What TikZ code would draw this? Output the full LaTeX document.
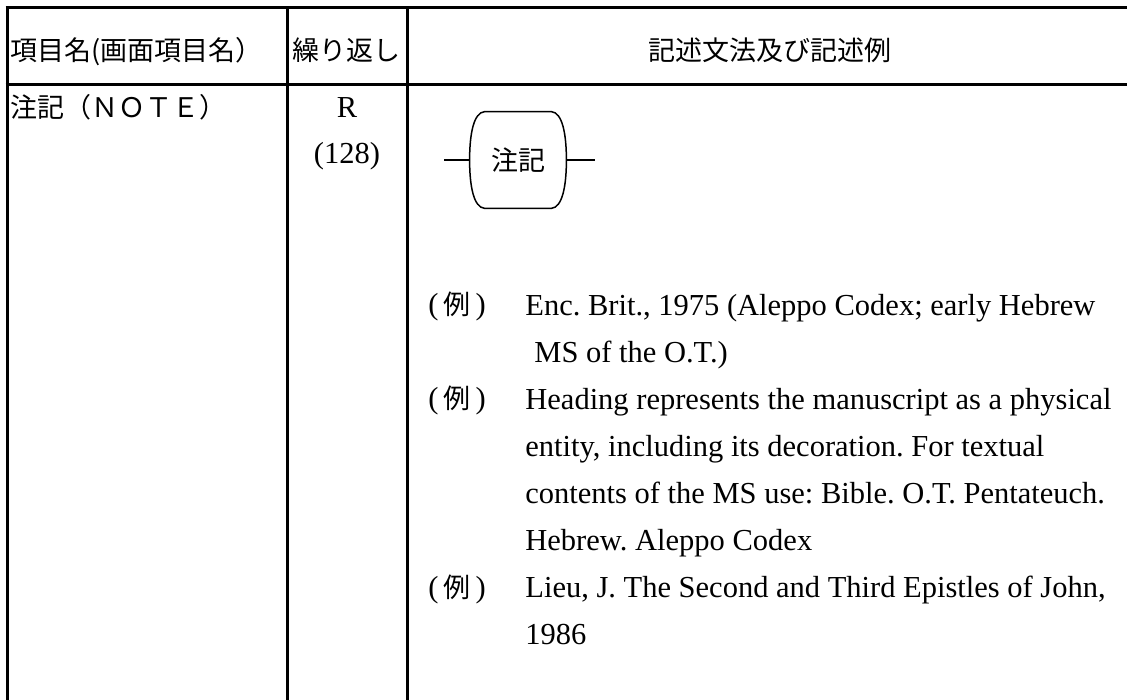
\documentclass[tikz,border=0pt]{standalone}
\usepackage{fontspec}
\setmainfont{Liberation Serif}
\newfontfamily\jp{Noto Sans CJK JP}
\usetikzlibrary{positioning,calc}

\begin{document}
\frenchspacing
\begin{tikzpicture}[x=1pt, y=-1pt, thick,
  rule/.style = {line width=3pt},
  jtext/.style = {font=\jp\fontsize{27}{47}\selectfont, inner sep=0pt},
  etext/.style = {font=\fontsize{30.5}{47}\selectfont, inner sep=0pt},
  term/.style = {minimum width=96pt, minimum height=96pt, inner sep=0pt, font=\jp\fontsize{27}{30}\selectfont}]
\useasboundingbox[fill=white] (0,0) rectangle (1127,700);
% table
\draw[rule] (5.5,8) -- (1127,8);
\draw[rule] (5.5,85) -- (1127,85);
\draw[rule] (7,8) -- (7,700);
\draw[rule] (287,8) -- (287,700);
\draw[rule] (407,8) -- (407,700);
% header
\node[jtext, anchor=base west] (colname) at (10,61) {項目名(画面項目名）};
\node[jtext, anchor=base] (colrep) at (346,61) {繰り返し};
\node[jtext, anchor=base] (colsyn) at (770,61) {記述文法及び記述例};
% row
\node[jtext, anchor=base west] (name) at (10,118) {注記（ＮＯＴＥ）};
\node[etext, anchor=base] (rep) at (347,118) {R};
\node[etext, anchor=base] (max) at (347,164) {(128)};
% syntax
\node[term] (note) at (518,160) {注記};
\draw[line width=1.5pt] ($(note.north west)+(15,0)$) -- ($(note.north east)+(-15,0)$)
  .. controls ($(note.north east)+(-4,1)$) and ($(note.east)+(0,-26)$) .. (note.east)
  .. controls ($(note.east)+(0,26)$) and ($(note.south east)+(-4,-1)$) .. ($(note.south east)+(-15,0)$)
  -- ($(note.south west)+(15,0)$)
  .. controls ($(note.south west)+(4,-1)$) and ($(note.west)+(0,26)$) .. (note.west)
  .. controls ($(note.west)+(0,-26)$) and ($(note.north west)+(4,1)$) .. cycle;
\coordinate (in) at (444,160);
\coordinate (out) at (595,160);
\draw[line width=1.5pt] (in) -- (note.west);
\draw[line width=1.5pt] (note.east) -- (out);
% examples
\node[etext, anchor=base west] (ex1) at (428,315) {(\,{\jp\fontsize{27}{47}\selectfont 例}\,)};
\node[etext, anchor=base west] (ex2) at (428,409) {(\,{\jp\fontsize{27}{47}\selectfont 例}\,)};
\node[etext, anchor=base west] (ex3) at (428,597) {(\,{\jp\fontsize{27}{47}\selectfont 例}\,)};
\node[etext, anchor=north west, align=left] (txt1) at (525,289)
  {\rule{0pt}{26pt}Enc. Brit., 1975 (Aleppo Codex; early Hebrew\\
   \hspace{9pt}MS of the O.T.)};
\node[etext, anchor=north west, align=left] (txt2) at (525,383)
  {\rule{0pt}{26pt}Heading represents the manuscript as a physical\\
   entity, including its decoration. For textual\\
   contents of the MS use: Bible. O.T. Pentateuch.\\
   Hebrew. Aleppo Codex};
\node[etext, anchor=north west, align=left] (txt3) at (525,571)
  {\rule{0pt}{26pt}Lieu, J. The Second and Third Epistles of John,\\
   1986};
\end{tikzpicture}
\end{document}
